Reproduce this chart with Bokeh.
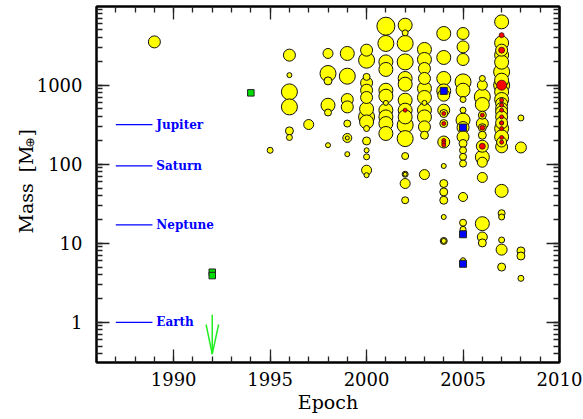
import math
from bokeh.plotting import figure
from bokeh.layouts import row
from bokeh.models import (LinearAxis, LogAxis, FixedTicker, CustomJSTickFormatter,
                          Label, Range1d, ColumnDataSource)
from bokeh.core.properties import value
from bokeh.embed import file_html
from bokeh.resources import INLINE

# ---------------- data ----------------
# (epoch, mass [Earth masses], relative bubble size)
planets = [
    (1989, 3530, 6),
    (1995, 150, 3),
    (1996, 2400, 6), (1996, 1340, 2.5), (1996, 823, 8), (1996, 531, 8), (1996, 264, 4), (1996, 218, 3),
    (1997, 318, 5),
    (1998, 2520, 5), (1998, 1406, 8), (1998, 1133, 4), (1998, 558, 7), (1998, 451, 3.5), (1998, 174, 2.5),
    (1999, 2520, 7), (1999, 1300, 8), (1999, 659, 6), (1999, 531, 6), (1999, 327, 3.5), (1999, 215, 4.5),
    (1999, 215, 2), (1999, 134, 2.5),
    (2000, 2775, 6), (2000, 2070, 8), (2000, 1274, 3.5), (2000, 1069, 6), (2000, 864, 6), (2000, 699, 6),
    (2000, 501, 7), (2000, 397, 8), (2000, 343, 7), (2000, 283, 3), (2000, 197, 4), (2000, 150, 2.5),
    (2000, 124, 3), (2000, 84, 5), (2000, 72.6, 2.5),
    (2001, 5580, 9), (2001, 3373, 8), (2001, 1972, 7), (2001, 1582, 7), (2001, 864, 7), (2001, 726, 7),
    (2001, 597, 2.5), (2001, 483, 7), (2001, 397, 7), (2001, 327, 7), (2001, 245, 7),
    (2002, 5745, 7), (2002, 4590, 3), (2002, 3373, 8), (2002, 1972, 8), (2002, 1217, 7), (2002, 1030, 7),
    (2002, 646, 7), (2002, 483, 7), (2002, 397, 7), (2002, 312, 8), (2002, 211, 8), (2002, 127, 3.5),
    (2002, 74.7, 3), (2002, 74.7, 2), (2002, 57, 5), (2002, 35, 3.5),
    (2003, 2832, 7), (2003, 2115, 7), (2003, 1626, 6), (2003, 1217, 6), (2003, 908, 7), (2003, 699, 7),
    (2003, 597, 2.5), (2003, 483, 7), (2003, 397, 7), (2003, 297, 6), (2003, 233, 4), (2003, 74, 5),
    (2004, 4510, 7), (2004, 2242, 7), (2004, 1217, 7), (2004, 847, 7), (2004, 747, 6), (2004, 483, 6),
    (2004, 438, 4), (2004, 327, 4), (2004, 191, 6), (2004, 95, 2.5), (2004, 57, 4), (2004, 44.6, 4),
    (2004, 35, 4), (2004, 21.5, 2.5), (2004, 10.7, 3.5), (2004, 10.7, 2.5),
    (2005, 4510, 6), (2005, 3054, 6), (2005, 2115, 6), (2005, 1101, 8), (2005, 864, 7), (2005, 659, 3),
    (2005, 483, 3), (2005, 361, 7), (2005, 291, 6), (2005, 222, 6), (2005, 183, 4), (2005, 150, 3.5),
    (2005, 124, 3.5), (2005, 102, 3.5), (2005, 38.5, 4.5), (2005, 18.2, 3.5), (2005, 15, 3), (2005, 6.1, 2.5),
    (2006, 1217, 3), (2006, 1000, 5), (2006, 711, 8), (2006, 570, 7), (2006, 417, 4), (2006, 327, 6),
    (2006, 290, 4), (2006, 233, 4), (2006, 169, 6), (2006, 123, 7), (2006, 106, 5), (2006, 68, 5),
    (2006, 17.7, 7), (2006, 12, 5), (2006, 10.1, 4),
    (2007, 6330, 7), (2007, 3430, 7), (2007, 2775, 6), (2007, 2400, 7), (2007, 1954, 7), (2007, 1473, 8),
    (2007, 1157, 7), (2007, 1000, 8), (2007, 823, 7), (2007, 659, 7), (2007, 586, 6), (2007, 507, 6),
    (2007, 459, 6), (2007, 397, 6), (2007, 333, 6), (2007, 333, 2), (2007, 283, 7), (2007, 222, 7),
    (2007, 191, 5), (2007, 166, 6), (2007, 46, 6.5), (2007, 24, 3.5), (2007, 21.5, 3), (2007, 11, 3),
    (2007, 8.3, 5.5), (2007, 5.0, 4),
    (2008, 385, 3), (2008, 163, 5.5), (2008, 8.0, 4), (2008, 6.9, 4), (2008, 3.6, 3),
]
planets = sorted(planets, key=lambda t: -t[2])
epoch = [t[0] for t in planets]
mass = [t[1] for t in planets]
bubble = [t[2] for t in planets]

# transiting planets (red)
tr_epoch = [2002, 2004, 2004, 2004, 2004, 2004, 2006, 2006, 2006,
            2007, 2007, 2007, 2007, 2007, 2007, 2007, 2007, 2007, 2007, 2007]
tr_mass = [483, 438, 327, 200, 187, 175, 417, 290, 169,
           4296, 2775, 1000, 646, 560, 483, 397, 333, 283, 218, 190]
tr_bubble = [2, 2, 2, 2, 2, 2, 2, 2.5, 3,
             2.5, 3, 5, 2, 2, 2, 2, 2, 2, 2, 2]

# microlensing (blue squares)
ml_epoch = [2004, 2005, 2005, 2005]
ml_mass = [847, 291, 13, 5.5]

# pulsar planets (green squares)
ps_epoch = [1992, 1992, 1994]
ps_mass = [4.3, 3.9, 800]

# upper limit (arrow)
lim_epoch = [1992]
lim_mass = [1.25]

# solar system reference
ss_names = ["Jupiter", "Saturn", "Neptune", "Earth"]
ss_mass = [317.8, 95.2, 17.1, 1.0]

x_major = [1990, 1995, 2000, 2005, 2010]
x_minor = list(range(1986, 2011))
y_major = [1, 10, 100, 1000]
y_labels = ["1", "10", "100", "1000"]
y_minor = [m * 10.0 ** k for k in range(-1, 4) for m in range(1, 10)]

FONT = "DejaVu Serif"
SIDE_W = 94
H = 419
TOP, BOTTOM = 6, 57
yr = Range1d(0.31, 9900)

# ---------------- left strip: y tick labels and y-axis title ----------------
side = figure(width=SIDE_W, height=H, x_range=Range1d(0, SIDE_W), y_range=yr, y_axis_type="log",
              output_backend="svg", toolbar_location=None, title=None,
              x_axis_location=None, y_axis_location=None,
              min_border_left=0, min_border_right=0, min_border_top=TOP, min_border_bottom=BOTTOM)
side.grid.visible = False
side.outline_line_color = None
side.border_fill_color = "white"
side.background_fill_color = "white"
side.text(x=[82] * len(y_major), y=y_major, text=y_labels, text_align="right",
          text_baseline="middle", text_font=value(FONT), text_font_size="18px", text_color="black")
lab_kw = dict(x_units="screen", y_units="screen", angle=math.pi / 2,
              text_align="left", text_baseline="alphabetic", text_color="black")
side.add_layout(Label(x=25, y=129, text="Mass", text_font=FONT, text_font_size="19px", **lab_kw))
side.add_layout(Label(x=25, y=190, text="[M", text_font=FONT, text_font_size="19px", **lab_kw))
side.add_layout(Label(x=29, y=215, text="\u2295", text_font="DejaVu Sans", text_font_size="12px", **lab_kw))
side.add_layout(Label(x=25, y=226, text="]", text_font=FONT, text_font_size="19px", **lab_kw))

# ---------------- main figure ----------------
p = figure(width=583 - SIDE_W, height=H, x_range=Range1d(1986, 2010), y_range=yr,
           y_axis_type="log", output_backend="svg", toolbar_location=None, title=None,
           min_border_left=2, min_border_right=24, min_border_top=TOP, min_border_bottom=BOTTOM)
p.grid.visible = False
p.outline_line_color = "black"
p.outline_line_width = 2
p.background_fill_color = "white"
p.border_fill_color = "white"

xt = FixedTicker(ticks=x_major, minor_ticks=x_minor)
yt = FixedTicker(ticks=y_major, minor_ticks=y_minor)

p.add_layout(LinearAxis(), "above")
p.add_layout(LogAxis(), "right")

blank = CustomJSTickFormatter(code="return ''")
for ax in p.xaxis + p.yaxis:
    ax.axis_line_width = 2
    ax.axis_line_color = "black"
    ax.major_tick_in = 13
    ax.major_tick_out = 0
    ax.minor_tick_in = 6
    ax.minor_tick_out = 0
    ax.major_tick_line_width = 1.3
    ax.minor_tick_line_width = 1.3
    ax.major_tick_line_color = "#222222"
    ax.minor_tick_line_color = "#222222"
    ax.major_label_text_font = FONT
    ax.major_label_text_font_size = "18px"
    ax.major_label_text_color = "black"
for ax in p.xaxis:
    ax.ticker = xt
for ax in p.yaxis:
    ax.ticker = yt

for ax in (p.above[0], p.right[0], p.left[0]):
    ax.formatter = blank
    ax.major_label_standoff = 0

bx = p.below[0]
bx.major_label_standoff = 9
bx.axis_label = "Epoch"
bx.axis_label_text_font = FONT
bx.axis_label_text_font_size = "19px"
bx.axis_label_text_font_style = "normal"
bx.axis_label_text_color = "black"
bx.axis_label_standoff = 2

# solar system references
ss_src = ColumnDataSource(dict(x0=[1987.0] * 4, x1=[1988.9] * 4, xt=[1989.1] * 4,
                               y=ss_mass, name=ss_names))
p.segment(x0="x0", x1="x1", y0="y", y1="y", source=ss_src, line_color="#0000ff", line_width=1.2)
p.text(x="xt", y="y", text="name", source=ss_src, text_color="#0000ff",
       text_font=value(FONT), text_font_style="bold", text_font_size="12px",
       text_baseline="middle", text_align="left")

# upper-limit arrow
tip = [m * 10 ** -0.5 for m in lim_mass]
wing = [m * 10 ** -0.125 for m in lim_mass]
p.segment(x0=lim_epoch, x1=lim_epoch, y0=lim_mass, y1=tip, line_color="#22ee22", line_width=1.5)
p.segment(x0=[e - 0.32 for e in lim_epoch], x1=lim_epoch, y0=wing, y1=tip,
          line_color="#22ee22", line_width=1.5)
p.segment(x0=[e + 0.33 for e in lim_epoch], x1=lim_epoch, y0=wing, y1=tip,
          line_color="#22ee22", line_width=1.5)

# planets
src = ColumnDataSource(dict(x=epoch, y=mass, s=[2 * b for b in bubble]))
p.scatter(x="x", y="y", size="s", source=src, marker="circle", fill_color="#ffff00",
          line_color="#111111", line_width=1)

tsrc = ColumnDataSource(dict(x=tr_epoch, y=tr_mass, s=[2 * b for b in tr_bubble]))
p.scatter(x="x", y="y", size="s", source=tsrc, marker="circle", fill_color="#ff0000",
          line_color="#331111", line_width=0.8)

p.scatter(x=ml_epoch, y=ml_mass, size=7, marker="square", fill_color="#0000ff",
          line_color="#222222", line_width=1)
p.scatter(x=ps_epoch, y=ps_mass, size=6.5, marker="square", fill_color="#00dd00",
          line_color="#222222", line_width=1)

layout = row(side, p, spacing=0)
open("out.html", "w").write(file_html(layout, INLINE))
